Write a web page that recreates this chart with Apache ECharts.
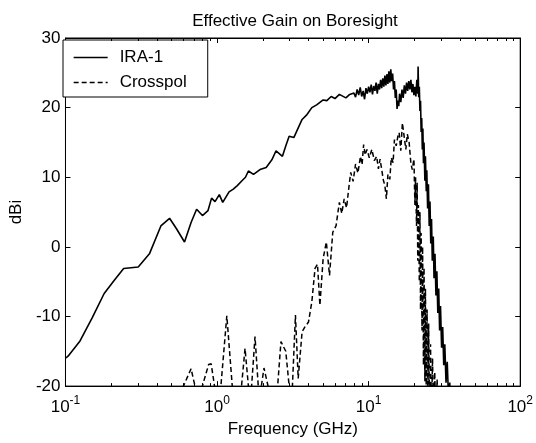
<!DOCTYPE html>
<html>
<head>
<meta charset="utf-8">
<script src="https://cdn.jsdelivr.net/npm/echarts@6/dist/echarts.min.js"></script>
<style>
  html, body { margin: 0; padding: 0; background: #fff; }
  #chart { width: 536px; height: 443px; }
</style>
</head>
<body>
<div id="chart"></div>
<script>
// IRA-1 (co-pol) gain, frequency in GHz
var iraFreq = [
  0.1, 0.104, 0.124, 0.15, 0.18, 0.21, 0.242, 0.302, 0.358, 0.426, 0.486, 0.54, 0.61, 0.674, 0.733, 0.801, 0.871,
  0.92, 0.97, 1.035, 1.09, 1.2, 1.28, 1.36, 1.46, 1.54, 1.61, 1.74, 1.92, 2.11, 2.3, 2.45, 2.7, 2.85, 2.99, 3.21,
  3.45, 3.64, 3.92, 4.22, 4.54, 5.01, 5.3, 5.66, 6.0, 6.41, 7.08, 7.5,
  8.0, 8.2, 8.4, 8.6, 8.8, 9.0, 9.2, 9.4, 9.6, 9.8, 10.0, 10.2, 10.4, 10.6, 10.8, 11.0, 11.2, 11.4, 11.6, 11.8,
  12.0, 12.2, 12.4, 12.6, 12.8, 13.0, 13.2, 13.4, 13.6, 13.8, 14.0, 14.2, 14.4, 14.6, 14.8, 15.0, 15.2, 15.4, 15.6,
  15.8, 16.0, 16.3, 16.6, 16.9, 17.2, 17.5, 17.8, 18.1, 18.4, 18.7, 19.0, 19.3, 19.6, 19.9, 20.2, 20.5, 20.8, 21.1,
  21.2, 21.4, 21.6, 21.8, 22.0, 22.2, 22.4, 22.6, 22.8, 23.0, 23.2, 23.5, 23.7, 24.0, 24.2, 24.5, 24.8, 25.1, 25.4,
  25.7, 26.0, 26.3, 26.7, 27.0, 27.4, 27.8, 28.2, 28.6, 29.0, 29.4, 29.8, 30.3, 30.8, 31.3, 31.8, 32.4, 33.0, 33.7,
  34.3, 35.0
];
var iraGain = [
  -16.0, -15.7, -13.6, -10.2, -6.7, -4.8, -3.1, -2.9, -1.0, 3.0, 4.1, 2.6, 0.7, 3.5, 5.4, 4.5, 5.2,
  7.0, 6.5, 7.5, 6.4, 7.9, 8.3, 8.8, 9.5, 10.0, 10.9, 10.4, 11.1, 11.4, 12.5, 13.8, 13.0, 14.6, 15.9, 15.7,
  17.2, 18.3, 19.0, 20.0, 20.4, 21.1, 21.0, 21.6, 21.3, 21.9, 21.4, 21.9,
  22.1, 21.5, 22.6, 21.8, 22.9, 21.6, 22.4, 21.2, 22.8, 22.0, 23.0, 22.2, 23.3, 21.9, 23.1, 22.4, 23.6, 22.0, 23.4, 22.6,
  24.0, 22.8, 24.2, 23.0, 24.6, 23.2, 24.8, 23.4, 25.2, 23.6, 25.5, 23.8, 24.9, 22.6, 23.8, 21.4, 22.6, 19.8, 21.0,
  20.2, 22.0, 20.8, 22.6, 21.4, 23.2, 22.0, 23.6, 22.4, 23.8, 22.6, 24.0, 22.2, 23.4, 21.8, 23.0, 21.6, 24.0, 22.0,
  25.9, 21.5, 23.0, 19.5, 21.0, 16.5, 18.5, 14.0, 17.0, 12.0, 15.0, 9.5, 13.0, 8.0, 11.0, 5.5, 9.0, 3.0, 6.5,
  0.5, 4.0, -2.0, 1.5, -4.5, -1.0, -7.0, -3.5, -9.5, -6.0, -12.0, -8.5, -14.5, -11.5, -17.0, -14.0, -19.5, -16.5, -22.0,
  -19.5, -25.0
];

// Crosspol gain
var xpFreq = [
  0.58, 0.60, 0.674, 0.715, 0.76, 0.80, 0.88, 0.915, 0.962, 1.0, 1.06, 1.16, 1.26, 1.32, 1.40, 1.45, 1.53, 1.61,
  1.65, 1.69, 1.78, 1.87, 1.91, 1.96, 2.04, 2.17, 2.25, 2.4, 2.51, 2.64, 2.84, 2.99, 3.1, 3.29, 3.43, 3.64, 3.8,
  4.01, 4.22, 4.43, 4.6, 4.77, 5.01, 5.26, 5.52, 5.8, 6.1, 6.41, 6.65, 6.9, 7.15, 7.43, 7.62, 7.9, 8.2, 8.5, 8.83,
  9.05, 9.27, 9.5, 9.75, 10.1, 10.5, 10.9, 11.3, 11.6, 11.9, 12.2, 12.5, 12.8, 13.1, 13.4, 13.8, 14.1, 14.5, 14.8,
  15.2, 15.6, 15.9, 16.3, 16.7, 17.1, 17.6, 18.0, 18.5, 19.0, 19.4,
  19.9, 20.2, 20.4, 20.7, 20.9, 21.1, 21.3, 21.6, 21.8, 22.0, 22.2, 22.5, 22.7, 23.0, 23.2, 23.5, 23.7, 24.0, 24.3,
  24.6, 24.9, 25.2, 25.6, 26.0, 26.4, 26.8, 27.3, 27.8, 28.3, 29.0
];
var xpGain = [
  -26, -20, -17.5, -20, -26, -20, -16.9, -16.8, -20, -26, -20, -9.9, -20, -26, -24, -20, -14.6, -20,
  -24, -20, -12.9, -20, -23, -20, -17.4, -20, -24, -22, -20, -13.6, -15.0, -20, -23, -9.8, -18.9, -12.2, -11.5,
  -10.8, -7.9, -3.1, -2.5, -8.4, -1.7, 0.7, -4.1, 2.1, 3.05, 6.4, 4.8, 6.9, 5.6, 8.8, 10.7, 9.4, 11.9, 10.6, 13.0,
  11.8, 14.7, 13.2, 14.0, 12.8, 14.0, 12.4, 13.0, 11.2, 12.6, 11.1, 9.6, 8.8, 6.9, 10.4, 9.7, 12.8, 12.1, 15.4,
  14.5, 15.9, 16.4, 13.8, 17.8, 18.0, 14.0, 16.2, 15.0, 12.0, 11.1,
  12.6, 6.0, 10.0, 3.0, 9.2, -2.0, 6.0, -5.0, 5.0, -9.0, 2.0, -12.0, 0.0, -17.0, -3.0, -19.3, -6.0, -21.0, -9.0,
  -22.0, -11.0, -23.0, -14.0, -24.0, -16.0, -25.0, -18.0, -26.0, -19.0, -27.0
];

// axis ticks
var xMinor = [0.2, 0.3, 0.4, 0.5, 0.6, 0.7, 0.8, 0.9, 2, 3, 4, 5, 6, 7, 8, 9, 20, 30, 40, 50, 60, 70, 80, 90];
var yTicks = [-20, -10, 0, 10, 20, 30];

var font = "'Liberation Sans', Arial, sans-serif";

function pairs(xs, ys) {
  var out = [];
  for (var i = 0; i < xs.length; i++) out.push([xs[i], ys[i]]);
  return out;
}

var chart = echarts.init(document.getElementById("chart"));

var option = {
  animation: false,
  backgroundColor: "#fff",
  textStyle: { fontFamily: font, color: "#000" },
  title: {
    text: "Effective Gain on Boresight",
    left: 290,
    textAlign: "center",
    top: 8,
    textStyle: { fontFamily: font, fontSize: 17, fontWeight: "normal", color: "#000" }
  },
  legend: {
    orient: "vertical",
    left: 63,
    top: 40,
    padding: [9, 21, 6, 10],
    itemWidth: 34,
    itemHeight: 14,
    itemGap: 8,
    borderColor: "#000",
    borderWidth: 1,
    backgroundColor: "#fff",
    itemStyle: { opacity: 0 },
    lineStyle: { width: 1.3 },
    textStyle: { fontFamily: font, fontSize: 17, color: "#000", padding: [0, 0, 0, 7] },
    data: ["IRA-1", "Crosspol"]
  },
  grid: {
    left: 57,
    right: 12,
    top: 38,
    bottom: 55,
    show: true,
    borderColor: "#000",
    borderWidth: 1
  },
  xAxis: [
    {
      type: "log",
      logBase: 10,
      min: 0.1,
      max: 100,
      splitNumber: 3,
      name: "Frequency (GHz)",
      nameLocation: "middle",
      nameGap: 33,
      nameTextStyle: { fontFamily: font, fontSize: 17, color: "#000" },
      axisLine: { show: true, onZero: false, lineStyle: { color: "#000", width: 1 } },
      axisTick: { show: true, inside: true, length: 5, lineStyle: { color: "#000" } },
      splitLine: { show: false },
      axisLabel: {
        margin: 9,
        color: "#000",
        formatter: function (v) {
          var e = Math.round(Math.log10(v));
          return "{b|10}{s|" + e + "}";
        },
        rich: {
          b: { fontFamily: font, fontSize: 17, color: "#000" },
          s: { fontFamily: font, fontSize: 12, color: "#000", padding: [0, 0, 13, 0] }
        }
      }
    },
    {
      type: "log",
      logBase: 10,
      min: 0.1,
      max: 100,
      splitNumber: 3,
      position: "top",
      axisLine: { show: true, onZero: false, lineStyle: { color: "#000", width: 1 } },
      axisTick: { show: true, inside: true, length: 5, lineStyle: { color: "#000" } },
      axisLabel: { show: false },
      splitLine: { show: false }
    }
  ],
  yAxis: [
    {
      type: "value",
      min: -20,
      max: 30,
      interval: 10,
      name: "dBi",
      nameLocation: "middle",
      nameGap: 34,
      nameTextStyle: { fontFamily: font, fontSize: 17, color: "#000" },
      axisLine: { show: true, onZero: false, lineStyle: { color: "#000", width: 1 } },
      axisTick: { show: true, inside: true, length: 5, lineStyle: { color: "#000" } },
      axisLabel: { fontFamily: font, fontSize: 17, color: "#000", margin: 5 },
      splitLine: { show: false }
    },
    {
      type: "value",
      min: -20,
      max: 30,
      interval: 10,
      position: "right",
      axisLine: { show: true, onZero: false, lineStyle: { color: "#000", width: 1 } },
      axisTick: { show: true, inside: true, length: 5, lineStyle: { color: "#000" } },
      axisLabel: { show: false },
      splitLine: { show: false }
    }
  ],
  series: [
    {
      name: "IRA-1",
      type: "line",
      data: pairs(iraFreq, iraGain),
      showSymbol: false,
      symbol: "none",
      clip: true,
      lineStyle: { color: "#000", width: 1.6, type: "solid" },
      itemStyle: { color: "#000" }
    },
    {
      name: "Crosspol",
      type: "line",
      data: pairs(xpFreq, xpGain),
      showSymbol: false,
      symbol: "none",
      clip: true,
      lineStyle: { color: "#000", width: 1.5, type: [5, 3] },
      itemStyle: { color: "#000" }
    }
  ]
};

chart.setOption(option);

// minor log ticks (2..9 per decade) on bottom and top, placed through the axis scale
var yBot = chart.convertToPixel({ yAxisIndex: 0 }, yTicks[0]);
var yTop = chart.convertToPixel({ yAxisIndex: 0 }, yTicks[yTicks.length - 1]);
var minorLines = [];
xMinor.forEach(function (v) {
  var px = Math.round(chart.convertToPixel({ xAxisIndex: 0 }, v)) + 0.5;
  minorLines.push({
    type: "line",
    shape: { x1: px, y1: yBot, x2: px, y2: yBot - 3 },
    style: { stroke: "#000", lineWidth: 1 },
    z: 10
  });
  minorLines.push({
    type: "line",
    shape: { x1: px, y1: yTop, x2: px, y2: yTop + 3 },
    style: { stroke: "#000", lineWidth: 1 },
    z: 10
  });
});
chart.setOption({ graphic: minorLines });
</script>
</body>
</html>
